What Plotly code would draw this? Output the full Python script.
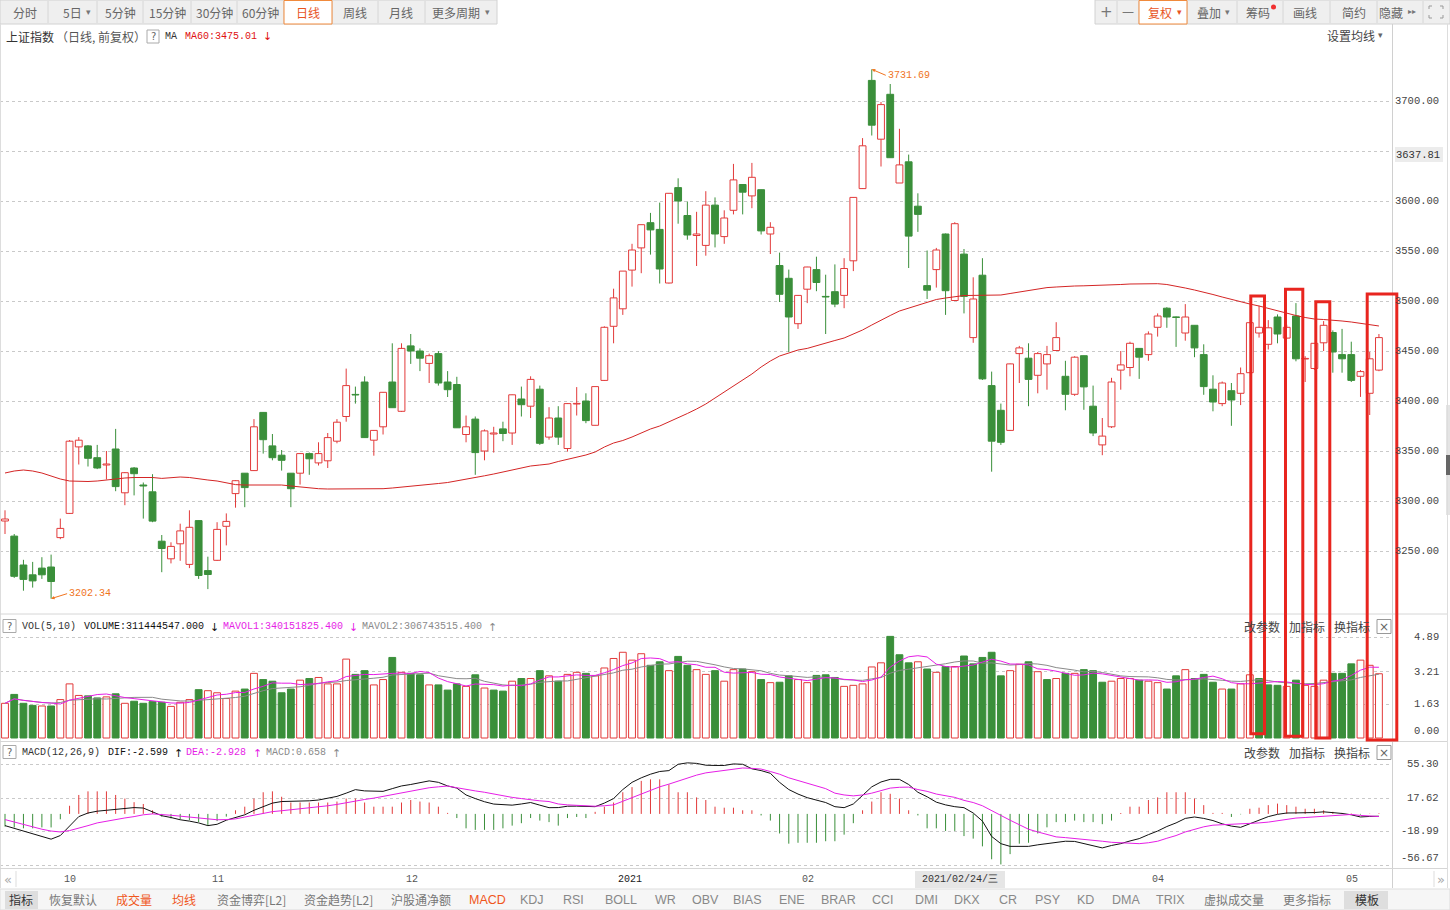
import plotly.graph_objects as go
import pandas as pd

W, H = 1450, 910
def px(x): return x / W
def py(y): return 1 - y / H

# ---------------- data ----------------
open_ = [3280.0,3264.9,3236.0,3226.2,3232.9,3234.0,3263.4,3287.6,3354.1,3355.1,
 3343.3,3336.0,3352.0,3308.2,3333.0,3316.0,3309.2,3259.8,3242.2,3257.2,
 3236.6,3280.4,3230.4,3240.7,3274.7,3307.4,3327.8,3330.4,3388.6,3355.1,
 3345.8,3327.8,3327.8,3347.4,3338.1,3340.2,3359.8,3384.5,3406.5,3419.0,
 3360.8,3374.2,3419.0,3389.7,3455.1,3450.0,3437.6,3447.4,3419.0,3416.5,
 3366.5,3381.9,3350.0,3367.0,3372.1,3368.0,3402.0,3394.8,3411.8,3363.9,
 3383.0,3352.5,3397.0,3400.0,3375.7,3420.6,3474.7,3492.2,3530.9,3553.1,
 3578.3,3571.6,3518.0,3613.4,3585.5,3565.5,3555.6,3595.9,3564.4,3590.7,
 3616.5,3605.1,3611.3,3567.0,3535.5,3522.7,3477.3,3511.8,3531.4,3504.5,
 3509.3,3505.6,3540.2,3612.4,3720.6,3661.8,3706.7,3618.0,3639.2,3594.8,
 3515.4,3531.4,3567.0,3500.5,3546.9,3463.4,3525.8,3415.4,3390.7,3370.6,
 3447.4,3442.8,3425.7,3437.1,3450.5,3424.7,3406.7,3445.3,3394.8,3356.1,
 3374.2,3430.9,3433.5,3452.6,3446.4,3473.7,3492.8,3484.0,3468.0,3475.7,
 3446.4,3411.8,3397.4,3410.3,3407.7,3428.3,3468.0,3456.7,3484.0,3462.9,
 3485.0,3442.0,3432.5,3458.2,3468.5,3446.4,3446.4,3424.7,3407.7,3430.9]
high = [3290.7,3267.0,3241.2,3239.1,3243.8,3246.4,3282.4,3361.0,3363.9,3356.0,
 3356.1,3350.0,3372.1,3329.0,3334.0,3318.5,3326.8,3266.0,3258.7,3277.3,
 3290.7,3281.0,3244.3,3278.8,3287.6,3321.0,3328.0,3381.9,3389.0,3367.0,
 3351.0,3328.0,3348.0,3348.5,3358.7,3368.0,3381.9,3432.4,3414.4,3424.7,
 3371.0,3409.0,3457.7,3457.7,3467.0,3452.6,3447.4,3450.0,3429.9,3424.2,
 3385.5,3384.5,3371.6,3374.2,3379.3,3406.5,3414.4,3424.7,3415.4,3393.8,
 3394.8,3398.0,3413.9,3407.7,3414.5,3474.7,3512.3,3530.0,3557.2,3576.5,
 3588.1,3598.4,3608.0,3622.7,3599.5,3589.2,3609.8,3603.6,3590.7,3637.1,
 3617.0,3638.1,3611.5,3578.8,3548.4,3531.4,3506.0,3534.2,3544.3,3526.3,
 3536.6,3542.8,3604.0,3662.9,3731.69,3699.0,3717.0,3672.2,3646.4,3607.7,
 3550.5,3553.1,3567.5,3578.8,3552.0,3523.7,3542.8,3429.4,3397.4,3437.5,
 3455.1,3457.7,3449.0,3455.1,3478.8,3440.2,3444.8,3445.5,3415.4,3383.0,
 3423.2,3450.0,3459.3,3453.0,3469.6,3487.6,3493.8,3484.5,3496.9,3476.0,
 3456.7,3425.7,3419.5,3418.0,3433.5,3478.5,3495.3,3480.9,3486.6,3476.3,
 3497.9,3444.8,3458.0,3479.9,3470.6,3472.1,3459.3,3430.9,3449.0,3467.0]
low = [3267.0,3223.1,3210.3,3213.4,3222.1,3202.34,3261.8,3287.0,3336.5,3334.5,
 3331.9,3321.6,3309.8,3295.8,3305.6,3282.4,3278.8,3228.8,3237.6,3240.2,
 3232.9,3222.1,3211.9,3240.0,3255.6,3293.3,3293.8,3330.0,3347.4,3340.7,
 3330.4,3293.8,3316.4,3326.2,3335.5,3333.0,3357.7,3379.3,3397.4,3363.0,
 3345.3,3366.5,3393.0,3389.0,3437.1,3429.9,3418.0,3415.4,3404.0,3373.0,
 3358.7,3326.2,3340.7,3348.4,3359.8,3356.1,3384.5,3383.0,3356.1,3361.3,
 3356.1,3349.4,3385.5,3377.8,3375.5,3420.0,3457.7,3486.1,3514.4,3527.8,
 3546.4,3517.5,3517.5,3577.3,3561.3,3535.0,3545.3,3553.6,3557.2,3586.6,
 3586.6,3592.8,3566.5,3547.0,3499.0,3449.0,3472.1,3497.9,3509.8,3467.0,
 3493.8,3492.8,3529.9,3612.0,3665.5,3634.5,3643.0,3618.0,3533.0,3569.1,
 3502.0,3513.4,3486.1,3500.0,3487.6,3458.2,3421.0,3329.3,3356.1,3370.0,
 3418.0,3394.8,3407.7,3411.3,3450.0,3390.7,3405.1,3391.2,3364.9,3345.8,
 3373.0,3411.3,3424.7,3422.1,3440.2,3464.4,3473.2,3454.1,3460.3,3443.8,
 3406.2,3389.7,3394.8,3375.2,3395.9,3428.0,3463.4,3451.5,3457.7,3462.0,
 3439.7,3419.0,3431.0,3450.0,3428.3,3428.3,3419.0,3404.1,3386.0,3429.8]
close = [3282.0,3224.7,3221.6,3220.1,3226.2,3219.5,3272.6,3359.8,3360.8,3342.7,
 3333.0,3337.0,3314.4,3328.3,3327.3,3315.0,3279.9,3252.5,3254.6,3270.1,
 3273.7,3225.5,3226.5,3271.6,3279.6,3320.3,3313.4,3374.2,3361.3,3343.3,
 3340.7,3312.3,3347.4,3342.2,3347.4,3363.4,3378.8,3415.4,3406.0,3363.4,
 3370.6,3408.7,3393.3,3452.6,3450.0,3442.8,3445.3,3418.0,3411.3,3373.2,
 3374.2,3348.4,3370.1,3368.0,3367.5,3406.2,3396.3,3421.6,3357.7,3383.0,
 3363.9,3397.4,3397.5,3380.4,3414.4,3473.7,3503.1,3529.9,3551.0,3576.3,
 3571.1,3532.0,3607.7,3600.0,3566.0,3567.0,3595.9,3567.0,3583.0,3621.1,
 3608.8,3623.7,3570.1,3573.7,3506.7,3484.0,3505.6,3534.0,3518.5,3504.0,
 3496.9,3532.5,3603.6,3655.2,3675.8,3696.4,3643.3,3636.1,3564.9,3586.6,
 3510.8,3551.0,3510.3,3577.3,3504.6,3502.0,3422.1,3359.8,3358.7,3437.1,
 3453.1,3421.6,3447.4,3446.4,3463.4,3406.7,3443.8,3414.1,3368.0,3364.9,
 3419.0,3436.1,3457.7,3443.8,3467.0,3485.0,3484.0,3483.5,3484.0,3453.1,
 3414.4,3399.0,3418.0,3401.0,3427.3,3478.3,3473.7,3473.2,3467.0,3473.7,
 3442.2,3442.5,3457.7,3475.7,3449.0,3442.2,3420.6,3429.4,3442.2,3463.4]
volume = [1.68,2.11,1.68,1.58,1.55,1.55,1.86,2.62,2.06,2.04,
 1.94,1.99,2.14,1.68,1.78,1.68,1.76,1.73,1.53,1.73,
 1.86,2.34,2.29,2.19,1.91,2.27,2.37,3.13,2.83,2.75,
 2.19,2.37,2.80,2.88,2.93,2.62,2.62,3.82,3.08,3.26,
 2.57,2.83,3.90,3.18,3.13,3.06,2.57,2.57,2.32,2.62,
 2.50,3.06,2.42,2.32,2.27,2.75,2.88,2.88,3.26,3.01,
 2.75,3.08,3.18,3.13,3.01,3.39,3.85,4.15,3.77,4.08,
 3.52,3.69,3.26,3.95,3.52,3.31,3.08,3.26,2.75,3.31,
 3.34,3.21,2.83,2.68,2.70,3.01,2.83,2.68,3.03,3.06,
 2.93,2.50,2.55,2.62,3.44,3.64,4.92,4.03,3.64,3.69,
 3.34,3.18,3.46,3.46,3.97,3.59,3.90,4.15,3.01,3.26,
 3.57,3.69,3.21,2.83,2.88,3.13,3.13,3.31,3.26,2.70,
 2.75,2.88,2.88,2.80,2.75,2.68,2.37,3.01,3.31,2.88,
 3.08,2.70,2.37,2.37,2.62,3.06,2.88,2.57,2.55,2.50,
 2.80,2.55,2.50,2.80,3.13,3.13,3.59,3.77,3.52,3.11]
ma60 = [3328,3330,3331,3330,3328,3325,3322,3320,3319.6,3319.5,
 3320,3321,3322.6,3323,3323.5,3323.7,3323.5,3322.6,3323,3324,
 3323.5,3322.6,3321,3320,3318,3316.4,3316,3315.9,3316,3316,
 3316,3315,3314,3313,3312.3,3312,3312,3311.8,3311.8,3312,
 3312,3312.3,3313,3313.8,3314.4,3315.4,3316.4,3317.5,3318.5,3320,
 3321.6,3323.5,3325.2,3327,3329,3331,3333,3335,3336,3337,
 3339.5,3341.5,3343.5,3346,3349,3354,3358,3360.5,3364,3368,
 3372,3375,3379,3383,3387.5,3392,3397,3403,3409,3415,
 3421,3427,3434,3440,3445,3448,3451,3452.6,3455,3458,
 3460.5,3463,3467,3471,3476,3481,3485.5,3490,3493,3496,
 3498.5,3501.5,3503,3504.5,3505.5,3505.6,3505.6,3505.6,3506,3507.5,
 3509,3510.5,3512,3513.4,3514,3514.8,3515,3515.2,3515.4,3515.6,
 3516,3516.5,3517,3517.3,3517.5,3517.3,3516.5,3515,3513,3511,
 3509,3506.5,3504,3501.5,3499,3497,3495,3492.5,3490,3487.6,
 3485.5,3483.5,3482,3481.5,3481,3480,3479,3477.5,3476,3475.01]
dif = [-13,-16,-19,-22,-25,-28,-24,-13,-3,1,
 3,4,5,6.5,7,6.5,2,-2,-4,-6.5,
 -8,-10,-13,-11.5,-7,-4,-1,4,8,12,
 13.7,13.7,13.7,14.5,15.4,17,19.4,23,26.9,25.5,
 25,25,28,31,32.6,35,36.6,35,31,28.6,
 21,17,13.5,10.9,10,9.7,11,12.6,9.7,6.9,
 7,8.5,8.6,8,8,12,17,27,35,40,
 44,47,48,55,56.6,56,54,53.7,53.7,55.4,
 55,50,48,45,35,27,22,18,15,12.6,
 8,6.9,11,20,30,35.4,38.3,38.3,32.6,24,
 19,13,10,8,6.9,1,-8,-25,-33,-36,
 -36,-36,-34.3,-33,-32,-30.3,-30.5,-33,-35,-37.7,
 -35,-33,-30,-27.4,-23,-19,-14,-10,-5,-3.4,
 -5,-7.4,-11,-13.5,-14.9,-11,-7,-3,-0.5,1,
 1.1,1.1,1.5,2.3,1.5,0.5,-1,-3.4,-2.8,-2.599]
dea = [-6.3,-9,-12,-14.5,-17,-19,-20,-18.5,-16,-13,
 -10,-8,-6.5,-4.5,-3,-1,0,-0.5,-1.5,-2.5,
 -3.5,-5,-6.3,-6.5,-6.3,-5.5,-3.5,-1.5,0.5,2.5,
 3.5,4.5,5.5,6.5,7.5,9,10.5,12.5,14.5,16,
 17.5,19.4,21,23,25,27,29,30,30.9,29,
 27,25.5,24,22,20.5,18.3,17,15.5,14.5,13.7,
 11,10,9.5,9,8.5,9,10,14,18,22,
 26,30,33,36.6,40,43,45.5,47,48,49.5,
 50.9,50.5,49.7,47,44,40,37,34,31,28,
 23,21,20,21,23,26,28.6,29.5,29.7,27,
 25,22,20,18.3,15,12.6,9,4,-1.7,-7,
 -12,-17,-20,-23,-25.5,-26.3,-27.5,-28.6,-29.5,-30.3,
 -31.5,-32,-33,-33,-32,-30.3,-27,-24,-20,-17,
 -14.3,-12.5,-12,-11.8,-11.4,-11,-10,-9.1,-7.5,-6,
 -4.6,-4,-3.4,-2.5,-1.7,-1,-0.6,-1.7,-2.5,-2.928]
macd_hist = [-14,-15,-16,-16,-15,-15,-6,9,21,25,
 25,25,21,17,13,11,4,-3,-5,-6,
 -7,-9,-13,-8,-3,4,8,17,24,25,
 19,12.6,12.6,12.6,12.6,12.6,13.7,17,17,12.6,
 8,8,8,12.6,15.4,13.7,12.6,8,1.1,-4.6,
 -16,-17.7,-17.7,-17.7,-16,-13,-10.3,-4.6,-7.4,-9.1,
 -13,-4.6,-3.4,-4.6,2.3,8,12.6,24,29.7,36.6,
 38.3,38.3,32.6,24,24,18.3,15.4,8,6.9,6.9,
 4,4,-1.7,-7.4,-21.7,-33,-32,-32,-32,-30.3,
 -30.3,-23,-10.3,4,13.7,24,22.3,17,4,-1.7,
 -16,-16,-18.9,-18.9,-24.6,-27.4,-36,-50.3,-56,-44.6,
 -33,-32,-21.7,-14.9,-9.1,-9.1,-7.4,-9.1,-9.1,-11.4,
 -7.4,1,8,8,15.4,18.3,24,24,24,17,
 9.7,1.1,1.1,-3.4,-0.5,5.7,6.9,9.7,11.4,9.7,
 8,5.7,5.7,4,2.3,1.1,0.5,-0.8,0.3,0.658]

month_labels = ["10", "11", "12", "2021", "02", "04", "05"]
month_pos = [6, 22, 43, 66, 86, 124, 145]
price_ticks = [3250, 3300, 3350, 3400, 3450, 3500, 3550, 3600, 3650, 3700]
price_tick_labels = ["3250.00", "3300.00", "3350.00", "3400.00", "3450.00",
                     "3500.00", "3550.00", "3600.00", "", "3700.00"]
vol_ticks = [4.89, 3.21, 1.63, 0.00]
macd_ticks = [55.30, 17.62, -18.99, -56.67]

N = len(close)
for arr in (open_, high, low, volume, ma60, dif, dea, macd_hist):
    assert len(arr) == N, len(arr)
idx = list(range(N))

RED = '#e23a3a'
GREEN = '#3a8f3a'
MAGENTA = '#e61ee6'
GREY = '#8a8a8a'
ORANGE = '#f0741e'
CJK = 'Noto Sans CJK SC'
MONO = 'Liberation Mono'

fig = go.Figure()

# ---------------- candles ----------------
up = [i for i in idx if close[i] >= open_[i]]
dn = [i for i in idx if close[i] < open_[i]]

def wick_xy(ids):
    xs, ys = [], []
    for i in ids:
        top = max(open_[i], close[i]); bot = min(open_[i], close[i])
        if high[i] > top:
            xs += [i, i, None]; ys += [top, high[i], None]
        if low[i] < bot:
            xs += [i, i, None]; ys += [low[i], bot, None]
    return xs, ys

for ids, col in ((up, RED), (dn, GREEN)):
    wx, wy = wick_xy(ids)
    fig.add_trace(go.Scatter(x=wx, y=wy, mode='lines', line=dict(color=col, width=1),
                             hoverinfo='skip', xaxis='x', yaxis='y'))

fig.add_trace(go.Bar(x=up, y=[max(abs(close[i]-open_[i]), 0.6) for i in up],
                     base=[min(open_[i], close[i]) for i in up], width=0.74,
                     marker=dict(color='white', line=dict(color=RED, width=1)),
                     xaxis='x', yaxis='y', hoverinfo='skip'))
fig.add_trace(go.Bar(x=dn, y=[max(abs(close[i]-open_[i]), 0.6) for i in dn],
                     base=[min(open_[i], close[i]) for i in dn], width=0.74,
                     marker=dict(color=GREEN, line=dict(color=GREEN, width=1)),
                     xaxis='x', yaxis='y', hoverinfo='skip'))

fig.add_trace(go.Scatter(x=idx, y=ma60, mode='lines', line=dict(color='#d42525', width=1),
                         xaxis='x', yaxis='y', hoverinfo='skip'))

# ---------------- volume ----------------
vup = [i for i in idx if i == 0 or close[i] >= close[i-1]]
vdn = [i for i in idx if not (i == 0 or close[i] >= close[i-1])]
fig.add_trace(go.Bar(x=vup, y=[volume[i] for i in vup], width=0.74,
                     marker=dict(color='white', line=dict(color=RED, width=1)),
                     xaxis='x2', yaxis='y2', hoverinfo='skip'))
fig.add_trace(go.Bar(x=vdn, y=[volume[i] for i in vdn], width=0.74,
                     marker=dict(color=GREEN, line=dict(color=GREEN, width=1)),
                     xaxis='x2', yaxis='y2', hoverinfo='skip'))
vs = pd.Series(volume)
mavol1 = vs.rolling(5, min_periods=1).mean()
mavol2 = vs.rolling(10, min_periods=1).mean()
fig.add_trace(go.Scatter(x=idx, y=mavol2, mode='lines', line=dict(color=GREY, width=1),
                         xaxis='x2', yaxis='y2', hoverinfo='skip'))
fig.add_trace(go.Scatter(x=idx, y=mavol1, mode='lines', line=dict(color=MAGENTA, width=1),
                         xaxis='x2', yaxis='y2', hoverinfo='skip'))

# ---------------- MACD ----------------
for sign, col in ((1, RED), (-1, GREEN)):
    hx, hy = [], []
    for i in idx:
        v = macd_hist[i]
        if (v >= 0 and sign > 0) or (v < 0 and sign < 0):
            hx += [i, i, None]; hy += [0, v, None]
    fig.add_trace(go.Scatter(x=hx, y=hy, mode='lines', line=dict(color=col, width=1),
                             xaxis='x3', yaxis='y3', hoverinfo='skip'))
fig.add_trace(go.Scatter(x=idx, y=dif, mode='lines', line=dict(color='#111111', width=1),
                         xaxis='x3', yaxis='y3', hoverinfo='skip'))
fig.add_trace(go.Scatter(x=idx, y=dea, mode='lines', line=dict(color=MAGENTA, width=1),
                         xaxis='x3', yaxis='y3', hoverinfo='skip'))

# ---------------- axes ----------------
XR = [-0.542, 150.2]
xdom = [0, px(1390)]
ax_common = dict(range=XR, domain=xdom, showgrid=False, zeroline=False,
                 showticklabels=False, showline=False, ticks='')
grid = dict(showgrid=True, gridcolor='#c9c9c9', griddash='dot', gridwidth=1,
            zeroline=False, showticklabels=False, showline=False, ticks='')
VS = 4.89 / 101.0
MS = 0.902
layout = dict(
    width=W, height=H, margin=dict(l=0, r=0, t=0, b=0),
    paper_bgcolor='white', plot_bgcolor='white', showlegend=False,
    barmode='overlay', hovermode=False, dragmode=False,
    xaxis=dict(**ax_common, anchor='y'),
    xaxis2=dict(**ax_common, anchor='y2'),
    xaxis3=dict(**ax_common, anchor='y3'),
    yaxis=dict(**grid, domain=[py(613), py(46)], range=[3801-613, 3801-46],
               tickvals=price_ticks, anchor='x'),
    yaxis2=dict(**grid, domain=[py(741), py(634)], range=[-3*VS, 104*VS],
                tickvals=vol_ticks[:3], anchor='x2'),
    yaxis3=dict(**grid, domain=[py(868), py(760)],
                range=[(813.9-868)/MS, (813.9-760)/MS],
                tickvals=macd_ticks, anchor='x3'),
)
fig.update_layout(**layout)

shapes = []
ann = []

def rect(x0, y0, x1, y1, fill=None, line=None, lw=1, layer='below'):
    shapes.append(dict(type='rect', xref='paper', yref='paper',
                       x0=px(x0), x1=px(x1), y0=py(y1), y1=py(y0),
                       fillcolor=fill if fill else 'rgba(0,0,0,0)',
                       line=dict(color=line if line else 'rgba(0,0,0,0)', width=lw if line else 0),
                       layer=layer))

def hline(x0, x1, y, color='#d4d4d4'):
    shapes.append(dict(type='line', xref='paper', yref='paper', x0=px(x0), x1=px(x1),
                       y0=py(y), y1=py(y), line=dict(color=color, width=1), layer='above'))

def vline(x, y0, y1, color='#d4d4d4'):
    shapes.append(dict(type='line', xref='paper', yref='paper', x0=px(x), x1=px(x),
                       y0=py(y0), y1=py(y1), line=dict(color=color, width=1), layer='above'))

def txt(x, y, s, size=12, color='#555', font=CJK, xanchor='left', bg=None):
    d = dict(xref='paper', yref='paper', x=px(x), y=py(y), text=s, showarrow=False,
             xanchor=xanchor, yanchor='middle', font=dict(family=font, size=size, color=color),
             borderpad=0)
    if bg:
        d['bgcolor'] = bg
    ann.append(d)

# ---------------- top toolbar ----------------
rect(0, 0, 497, 24, fill='#efefef', line='#d2d2d2')
for x in [48, 97, 143, 191, 237, 284, 332, 378, 425]:
    vline(x, 1, 23, '#d6d6d6')
rect(284, 0.5, 332, 24, fill='white', line='#f08a3c', layer='above')
left_btns = [("分时", 25), ("5日", 72), ("5分钟", 120), ("15分钟", 167), ("30分钟", 214),
             ("60分钟", 260), ("日线", 308), ("周线", 355), ("月线", 401), ("更多周期", 456)]
for s, cx in left_btns:
    txt(cx, 12.5, s, 12, '#e8541e' if s == "日线" else '#666', xanchor='center')
txt(88, 12, "▾", 9, '#777', font='DejaVu Sans', xanchor='center')
txt(487, 12, "▾", 9, '#777', font='DejaVu Sans', xanchor='center')

rect(1095, 0, 1450, 24, fill='#efefef', line='#d2d2d2')
for x in [1117, 1139, 1187, 1237, 1283, 1330, 1377, 1423]:
    vline(x, 1, 23, '#d6d6d6')
rect(1139, 0.5, 1187, 24, fill='white', line='#f08a3c', layer='above')
txt(1106, 12, "+", 15, '#777', font='DejaVu Sans', xanchor='center')
txt(1128, 12, "—", 12, '#777', font='DejaVu Sans', xanchor='center')
txt(1160, 12.5, "复权", 12, '#e8541e', xanchor='center')
txt(1179, 12, "▾", 9, '#e8541e', font='DejaVu Sans', xanchor='center')
txt(1209, 12.5, "叠加", 12, '#666', xanchor='center')
txt(1227, 12, "▾", 9, '#777', font='DejaVu Sans', xanchor='center')
txt(1258, 12.5, "筹码", 12, '#666', xanchor='center')
shapes.append(dict(type='circle', xref='paper', yref='paper', x0=px(1271), x1=px(1276),
                   y0=py(9.5), y1=py(4.5), fillcolor='#f03030', line=dict(width=0), layer='above'))
txt(1305, 12.5, "画线", 12, '#666', xanchor='center')
txt(1354, 12.5, "简约", 12, '#666', xanchor='center')
txt(1391, 12.5, "隐藏", 12, '#666', xanchor='center')
txt(1412, 12, "▸▸", 8, '#777', font='DejaVu Sans', xanchor='center')
for (ax0, ay0, ax1, ay1, ax2, ay2) in [(1429, 9, 1429, 6, 1432, 6), (1440, 6, 1443, 6, 1443, 9),
                                         (1429, 15, 1429, 18, 1432, 18), (1440, 18, 1443, 18, 1443, 15)]:
    shapes.append(dict(type='path', xref='paper', yref='paper',
                       path=f"M{px(ax0)},{py(ay0)} L{px(ax1)},{py(ay1)} L{px(ax2)},{py(ay2)}",
                       line=dict(color='#999', width=1), layer='above'))

# ---------------- title row ----------------
txt(5, 36.5, "上证指数", 12, '#333')
txt(55, 36.5, "（日线, 前复权）", 12, '#555')
rect(147, 30, 159, 43, fill='white', line='#aaa', layer='above')
txt(153, 36.5, "?", 10, '#666', font='DejaVu Sans', xanchor='center')
txt(164, 36.5, "MA", 10, '#333', font=MONO)
txt(184, 36.5, f"MA60:{ma60[-1]:.2f}", 10, '#e01010', font=MONO)
txt(262, 37, "↓", 11, '#e01010', font='DejaVu Sans')
txt(1326, 35.5, "设置均线", 12, '#444')
txt(1380, 35.5, "▾", 9, '#666', font='DejaVu Sans', xanchor='center')

# ---------------- frame lines ----------------
vline(1392.5, 24, 888, '#d0d0d0')
vline(0.5, 24, 888, '#dddddd')
vline(1447.5, 24, 888, '#dddddd')
hline(0, 1447, 614, '#d6d6d6')
hline(0, 1447, 741.5, '#d6d6d6')
hline(0, 1447, 868.5, '#d6d6d6')
rect(1446, 405, 1450, 515, fill='#e4e4e4')
rect(1446, 455, 1450, 475, fill='#666666', layer='above')

# ---------------- right axis labels ----------------
for v, s in zip(price_ticks, price_tick_labels):
    if s:
        ann.append(dict(xref='paper', yref='y', x=px(1441), y=v, text=s, showarrow=False,
                        xanchor='right', yanchor='middle',
                        font=dict(family=MONO, size=10.5, color='#444')))
rect(1395, 147, 1443, 162, fill='#ececec', layer='above')
txt(1441, 155, "3637.81", 10.5, '#333', font=MONO, xanchor='right')
for v in vol_ticks:
    ann.append(dict(xref='paper', yref='y2', x=px(1441), y=v, text=f"{v:.2f}", showarrow=False,
                    xanchor='right', yanchor='middle', yshift=7 if v == 0 else 0,
                    font=dict(family=MONO, size=10.5, color='#444')))
for v in macd_ticks:
    ann.append(dict(xref='paper', yref='y3', x=px(1441), y=v, text=f"{v:.2f}", showarrow=False,
                    xanchor='right', yanchor='middle', yshift=7 if v < -50 else 0,
                    font=dict(family=MONO, size=10.5, color='#444')))

# ---------------- panel headers ----------------
for yy in (626.5, 752.5):
    rect(3, yy - 7, 16, yy + 6, fill='white', line='#aaa', layer='above')
    txt(9.5, yy, "?", 10, '#666', font='DejaVu Sans', xanchor='center')
    txt(1243, yy, "改参数", 12, '#444')
    txt(1288, yy, "加指标", 12, '#444')
    txt(1333, yy, "换指标", 12, '#444')
    rect(1377, yy - 7, 1391, yy + 7, fill='white', line='#999', layer='above')
    txt(1384, yy, "×", 12, '#666', font='DejaVu Sans', xanchor='center')

txt(21, 626.5, "VOL(5,10)", 10, '#333', font=MONO)
txt(83, 626.5, "VOLUME:311444547.000", 10, '#111', font=MONO)
txt(209, 627, "↓", 11, '#111', font='DejaVu Sans')
txt(222, 626.5, "MAVOL1:340151825.400", 10, MAGENTA, font=MONO)
txt(348, 627, "↓", 11, MAGENTA, font='DejaVu Sans')
txt(361, 626.5, "MAVOL2:306743515.400", 10, GREY, font=MONO)
txt(487, 627, "↑", 11, GREY, font='DejaVu Sans')

txt(21, 752.5, "MACD(12,26,9)", 10, '#333', font=MONO)
txt(107, 752.5, f"DIF:{dif[-1]:.3f}", 10, '#111', font=MONO)
txt(173, 753, "↑", 11, '#111', font='DejaVu Sans')
txt(185, 752.5, f"DEA:{dea[-1]:.3f}", 10, MAGENTA, font=MONO)
txt(252, 753, "↑", 11, MAGENTA, font='DejaVu Sans')
txt(265, 752.5, f"MACD:{macd_hist[-1]:.3f}", 10, GREY, font=MONO)
txt(331, 753, "↑", 11, GREY, font='DejaVu Sans')

# ---------------- extreme annotations ----------------
imax = max(idx, key=lambda i: high[i])
imin = min(idx, key=lambda i: low[i])
ann.append(dict(xref='x', yref='y', x=imax, y=high[imax], text=f"{high[imax]:.2f}",
                showarrow=True, arrowhead=2, arrowsize=0.7, arrowwidth=1, arrowcolor=ORANGE,
                ax=14, ay=6, xanchor='left', yanchor='middle', standoff=0,
                font=dict(family=MONO, size=10, color=ORANGE)))
ann.append(dict(xref='x', yref='y', x=imin, y=low[imin], text=f"{low[imin]:.2f}",
                showarrow=True, arrowhead=2, arrowsize=0.7, arrowwidth=1, arrowcolor=ORANGE,
                ax=16, ay=-5, xanchor='left', yanchor='middle', standoff=0,
                font=dict(family=MONO, size=10, color=ORANGE)))

# ---------------- date axis ----------------
for s, p in zip(month_labels, month_pos):
    ann.append(dict(xref='x3', yref='paper', x=p, y=py(879), text=s, showarrow=False,
                    xanchor='left', xshift=2, yanchor='middle',
                    font=dict(family=MONO, size=10, color='#222' if s == '2021' else '#555')))
rect(915, 871, 1005, 888, fill='#e6e6e6', layer='above')
txt(960, 879.5, "2021/02/24/三", 10, '#333', font=MONO, xanchor='center')
txt(8, 879, "«", 13, '#aaa', font='DejaVu Sans', xanchor='center')
vline(16, 871, 887, '#dddddd')
txt(1441, 879, "»", 13, '#aaa', font='DejaVu Sans', xanchor='center')
vline(1434, 871, 887, '#dddddd')

# ---------------- bottom toolbar ----------------
rect(0, 889, 1450, 910, fill='#f6f6f6', line='#dddddd')
rect(5, 891, 38, 909, fill='#dedede')
rect(1344, 891, 1388, 909, fill='#dedede')
bottom_items = [("指标", 21, '#333'), ("恢复默认", 73, '#777'), ("成交量", 134, '#f0561c'),
                ("均线", 184, '#f0561c'), ("资金博弈[L2]", 251, '#777'), ("资金趋势[L2]", 338, '#777'),
                ("沪股通净额", 421, '#777'), ("MACD", 487, '#f0561c'), ("KDJ", 532, '#888'),
                ("RSI", 573, '#888'), ("BOLL", 621, '#888'), ("WR", 665, '#888'), ("OBV", 705, '#888'),
                ("BIAS", 747, '#888'), ("ENE", 792, '#888'), ("BRAR", 838, '#888'), ("CCI", 883, '#888'),
                ("DMI", 926, '#888'), ("DKX", 967, '#888'), ("CR", 1008, '#888'), ("PSY", 1048, '#888'),
                ("KD", 1085, '#888'), ("DMA", 1126, '#888'), ("TRIX", 1170, '#888'),
                ("虚拟成交量", 1234, '#777'), ("更多指标", 1307, '#777'), ("模板", 1367, '#333')]
for s, cx, col in bottom_items:
    f = CJK if any(ord(c) > 127 for c in s) else 'Liberation Sans'
    txt(cx, 899.5, s, 12 if f == CJK else 12.5, col, font=f, xanchor='center')

# ---------------- highlight rectangles ----------------
for (x0, y0, x1, y1) in [(1250.8, 296, 1264.5, 733.8), (1285.5, 289.3, 1302.8, 736.3),
                         (1315.8, 301.7, 1329.8, 737.9), (1367.2, 294, 1396.8, 739.9)]:
    shapes.append(dict(type='rect', xref='paper', yref='paper', x0=px(x0), x1=px(x1),
                       y0=py(y1), y1=py(y0), line=dict(color='#e8251f', width=3),
                       fillcolor='rgba(0,0,0,0)', layer='above'))

fig.update_layout(shapes=shapes, annotations=ann)
fig.write_html("out.html", config={'displayModeBar': False, 'staticPlot': True},
               post_script="document.body.style.margin='0';document.body.style.overflow='hidden';")
